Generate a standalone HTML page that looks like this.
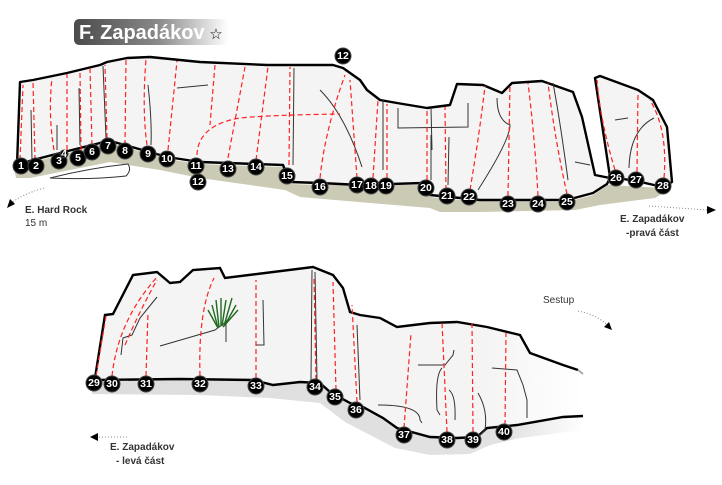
<!DOCTYPE html>
<html><head><meta charset="utf-8"><style>
html,body{margin:0;padding:0;background:#fff;}
svg{display:block;font-family:"Liberation Sans","DejaVu Sans",sans-serif;}
.n circle{fill:#000;stroke:#444;stroke-width:1}
.n text{fill:#fff;font-weight:bold;font-size:10.5px;text-anchor:middle;dominant-baseline:central}
.r{fill:none;stroke:#f22;stroke-width:1.2;stroke-dasharray:5,3}
.c{fill:none;stroke:#333;stroke-width:1}
.o{fill:#f4f4f4;stroke:#000;stroke-width:2.4;stroke-linejoin:round}
</style></head><body>
<svg width="722" height="485" viewBox="0 0 722 485">
<defs>
<linearGradient id="tg" x1="0" x2="1"><stop offset="0" stop-color="#4a4a4a"/><stop offset="0.55" stop-color="#8a8a8a"/><stop offset="1" stop-color="#fff"/></linearGradient>
<linearGradient id="fade" x1="0" x2="1"><stop offset="0.8" stop-color="#f4f4f4"/><stop offset="1" stop-color="#fff"/></linearGradient>
<linearGradient id="gfade" x1="0" x2="1"><stop offset="0" stop-color="#ddd"/><stop offset="0.85" stop-color="#e2e2e2"/><stop offset="1" stop-color="#fff"/></linearGradient>
</defs>
<!-- title -->
<path d="M80,19 H228 V45 H80 Q74,45 74,39 V25 Q74,19 80,19 Z" fill="url(#tg)"/>
<text x="79" y="39" fill="#fff" font-weight="bold" font-size="20">F. Zapadákov</text>
<text x="216" y="39" fill="#000" font-size="15" text-anchor="middle">☆</text>

<!-- top ground band -->
<path d="M14,168 L33,162 L60,155 L100,145 L107,142 L167,159 L200,164 L283,167 L290,184 L320,185 L360,185 L423,185 L430,197 L470,201 L567,202 L593,195 L608,185 L663,188 L668,190 L655,198 L600,205 L575,210 L480,212 L440,212 L430,208 L300,197 L285,190 L200,178 L160,170 L110,162 L60,172 L30,178 L16,178 Z" fill="#cbcab4"/>
<path d="M50,178 Q90,168 128,164 Q132,170 126,176 Q90,180 50,178 Z" fill="#fff" stroke="#333" stroke-width="1"/>

<!-- top rock main -->
<path class="o" d="M17,165 L20,82 L33,80 L67,73 L100,65 L107,62 L127,58 L150,57 L200,62 L267,65 L333,65 L343,68 L360,80 L367,90 L380,100 L397,103 L427,108 L450,105 L457,84 L483,85 L502,93 L512,83 L542,81 L573,92 L582,117 L595,175 L610,178 L607,184 L593,193 L567,200 L480,200 L470,199 L430,195 L423,183 L360,185 L320,183 L290,182 L283,165 L200,162 L167,157 L107,140 L100,143 L60,153 L33,160 Z"/>
<!-- right block -->
<path class="o" d="M610,177 L595,78 L600,76 L638,90 L653,100 L667,127 L672,182 L663,187 L636,181 Z"/>

<!-- cracks top -->
<g class="c">
<path d="M31,110 L32,160"/><path d="M57,125 L57,150"/><path d="M79,88 L80,145"/><path d="M103,66 L106,138"/>
<path d="M148,85 Q152,120 151,145"/><path d="M177,88 L208,85"/><path d="M294,68 L293,165"/>
<path d="M320,90 Q345,115 362,167"/><path d="M383,100 L383,170"/><path d="M398,108 L398,128 L468,127 L468,103"/>
<path d="M431,108 L432,150"/><path d="M431,135 L431,180"/><path d="M449,137 L448,185"/>
<path d="M497,98 Q497,120 510,125 Q510,140 478,190"/><path d="M553,83 Q560,120 568,180"/><path d="M575,162 L590,165"/>
<path d="M615,120 L628,118"/><path d="M629,168 Q630,130 654,118"/>
</g>
<!-- red routes top -->
<g class="r">
<path d="M20,160 L23,85"/><path d="M35,160 L33,81"/><path d="M54,150 Q48,115 52,78"/><path d="M67,150 L67,74"/><path d="M81,150 L80,72"/>
<path d="M92,145 L90,68"/><path d="M107,138 L105,65"/><path d="M125,145 L126,60"/><path d="M147,145 Q142,110 146,59"/><path d="M168,150 L177,61"/>
<path d="M197,155 Q198,125 240,118 Q270,115 340,114"/><path d="M215,65 L210,125"/><path d="M228,158 L245,67"/><path d="M256,160 L268,67"/><path d="M289,165 L290,67"/>
<path d="M320,178 Q325,130 345,75"/><path d="M357,178 L350,80"/><path d="M373,178 L378,100"/><path d="M387,178 L387,104"/>
<path d="M427,180 L427,108"/><path d="M446,190 L445,107"/><path d="M470,190 Q480,130 485,86"/><path d="M508,196 L510,84"/>
<path d="M538,196 Q535,140 528,83"/><path d="M567,194 Q555,140 548,83"/>
<path d="M615,170 Q600,120 597,80"/><path d="M637,172 L638,92"/><path d="M664,178 Q668,130 650,100"/>
</g>

<!-- bottom ground -->
<path d="M92,380 L180,379 L253,380 L273,385 L300,382 L320,383 L350,403 L363,407 L383,418 L397,428 L430,437 L457,438 L477,437 L487,428 L517,425 L563,417 L583,417 L583,430 L520,438 L490,445 L470,454 L430,455 L395,448 L370,435 L345,422 L320,403 L270,398 L200,395 L92,394 Z" fill="url(#gfade)"/>
<!-- bottom rock -->
<path d="M95,378 L105,315 L113,314 L133,275 L157,272 L170,283 L180,282 L193,270 L220,268 L225,278 L313,267 L333,275 L343,288 L350,312 L360,315 L380,318 L397,327 L430,323 L457,322 L487,327 L520,335 L530,353 L563,365 L583,374 L583,417 L563,417 L517,425 L487,428 L477,437 L457,438 L430,437 L397,428 L383,418 L363,407 L350,403 L330,392 L320,383 L300,382 L273,385 L253,380 L180,379 Z" fill="url(#fade)"/>
<path d="M95,378 L105,315 L113,314 L133,275 L157,272 L170,283 L180,282 L193,270 L220,268 L225,278 L313,267 L333,275 L343,288 L350,312 L360,315 L380,318 L397,327 L430,323 L457,322 L487,327 L520,335 L530,353 L563,365 L578,370" fill="none" stroke="#000" stroke-width="2.4"/>
<path d="M95,380 L180,379 L253,380 L273,385 L300,382 L320,383 L330,392 L350,403 L363,407 L383,418 L397,428 L430,437 L457,438 L477,437 L487,428 L517,425 L563,417 L583,416" fill="none" stroke="#000" stroke-width="2.4"/>
<path d="M578,370 L583,374" stroke="#aaa" stroke-width="2"/>

<!-- cracks bottom -->
<g class="c">
<path d="M121,355 L123,338 L132,335 L140,318 L157,297"/><path d="M160,346 L215,330 L226,322"/><path d="M226,320 L226,342"/>
<path d="M263,300 L264,345 L256,345"/><path d="M312,270 L311,380"/><path d="M315,272 L317,380"/>
<path d="M357,325 L360,400"/><path d="M418,365 L445,365 L453,355 L454,350"/><path d="M442,368 Q435,375 437,410 L440,415"/>
<path d="M449,390 Q456,395 455,420"/><path d="M478,393 Q488,410 485,430 L478,437"/>
<path d="M492,368 L517,370 L523,385 L527,400 L527,418"/><path d="M378,405 Q420,405 420,420 L422,423"/>
</g>
<!-- grass -->
<g stroke="#1f6a1f" stroke-width="1.4" fill="none">
<path d="M218,328 L212,305"/><path d="M219,327 L216,300"/><path d="M221,326 L221,298"/><path d="M222,326 L226,300"/><path d="M224,326 L232,298"/><path d="M225,325 L236,305"/><path d="M223,327 L238,310"/><path d="M218,328 L208,310"/>
</g>
<!-- red routes bottom -->
<g class="r">
<path d="M96,376 L106,316"/><path d="M112,376 Q118,320 158,276"/><path d="M125,345 Q140,310 157,280"/><path d="M146,376 L148,312"/>
<path d="M200,376 Q198,310 214,278"/><path d="M256,378 L256,280"/><path d="M316,380 L314,278"/><path d="M336,390 L333,282"/>
<path d="M357,402 L352,305"/><path d="M404,428 L411,333"/><path d="M447,432 L442,322"/><path d="M473,432 L472,322"/><path d="M505,425 L506,333"/>
</g>

<!-- numbers -->
<g class="n">
<g transform="translate(21,166)"><circle r="8"/><text>1</text></g>
<g transform="translate(36,166)"><circle r="8"/><text>2</text></g>
<g transform="translate(59,161)"><circle r="8"/><text>3</text></g>
<g transform="translate(64,154)"><circle r="4"/><text font-size="6">4</text></g>
<g transform="translate(78,158)"><circle r="8"/><text>5</text></g>
<g transform="translate(92,152)"><circle r="8"/><text>6</text></g>
<g transform="translate(108,146)"><circle r="8"/><text>7</text></g>
<g transform="translate(125,151)"><circle r="8"/><text>8</text></g>
<g transform="translate(148,154)"><circle r="8"/><text>9</text></g>
<g transform="translate(167,159)"><circle r="8"/><text>10</text></g>
<g transform="translate(196,166)"><circle r="8"/><text>11</text></g>
<g transform="translate(198,182)"><circle r="8"/><text>12</text></g>
<g transform="translate(343,56)"><circle r="8"/><text>12</text></g>
<g transform="translate(228,169)"><circle r="8"/><text>13</text></g>
<g transform="translate(256,167)"><circle r="8"/><text>14</text></g>
<g transform="translate(287,176)"><circle r="8"/><text>15</text></g>
<g transform="translate(320,187)"><circle r="8"/><text>16</text></g>
<g transform="translate(357,185)"><circle r="8"/><text>17</text></g>
<g transform="translate(371,186)"><circle r="8"/><text>18</text></g>
<g transform="translate(386,186)"><circle r="8"/><text>19</text></g>
<g transform="translate(426,188)"><circle r="8"/><text>20</text></g>
<g transform="translate(447,196)"><circle r="8"/><text>21</text></g>
<g transform="translate(469,197)"><circle r="8"/><text>22</text></g>
<g transform="translate(508,204)"><circle r="8"/><text>23</text></g>
<g transform="translate(538,204)"><circle r="8"/><text>24</text></g>
<g transform="translate(567,202)"><circle r="8"/><text>25</text></g>
<g transform="translate(616,178)"><circle r="8"/><text>26</text></g>
<g transform="translate(636,180)"><circle r="8"/><text>27</text></g>
<g transform="translate(663,186)"><circle r="8"/><text>28</text></g>
<g transform="translate(94,383)"><circle r="8"/><text>29</text></g>
<g transform="translate(112,384)"><circle r="8"/><text>30</text></g>
<g transform="translate(146,384)"><circle r="8"/><text>31</text></g>
<g transform="translate(200,384)"><circle r="8"/><text>32</text></g>
<g transform="translate(256,386)"><circle r="8"/><text>33</text></g>
<g transform="translate(315,387)"><circle r="8"/><text>34</text></g>
<g transform="translate(335,397)"><circle r="8"/><text>35</text></g>
<g transform="translate(356,410)"><circle r="8"/><text>36</text></g>
<g transform="translate(404,435)"><circle r="8"/><text>37</text></g>
<g transform="translate(447,440)"><circle r="8"/><text>38</text></g>
<g transform="translate(473,440)"><circle r="8"/><text>39</text></g>
<g transform="translate(504,432)"><circle r="8"/><text>40</text></g>
</g>

<!-- labels & arrows -->
<g fill="#333">
<text x="25" y="213" font-size="10" font-weight="bold">E. Hard Rock</text>
<text x="25" y="226" font-size="10">15 m</text>
<text x="620" y="222" font-size="10" font-weight="bold">E. Zapadákov</text>
<text x="626" y="236" font-size="10" font-weight="bold">-pravá část</text>
<text x="543" y="303" font-size="10">Sestup</text>
<text x="110" y="450" font-size="10" font-weight="bold">E. Zapadákov</text>
<text x="116" y="464" font-size="10" font-weight="bold">- levá část</text>
</g>
<g fill="none" stroke="#888" stroke-width="1" stroke-dasharray="1,2">
<path d="M44,188 Q20,195 12,203"/>
<path d="M649,206 L708,210"/>
<path d="M578,311 Q598,315 608,326"/>
<path d="M127,437 L97,437"/>
</g>
<path d="M7,208 L10,199 L15,204 Z" fill="#000"/>
<path d="M716,210 L707,206 L707,214 Z" fill="#000"/>
<path d="M612,330 L604,327 L609,322 Z" fill="#000"/>
<path d="M90,437 L98,433 L98,441 Z" fill="#000"/>
</svg>
</body></html>
